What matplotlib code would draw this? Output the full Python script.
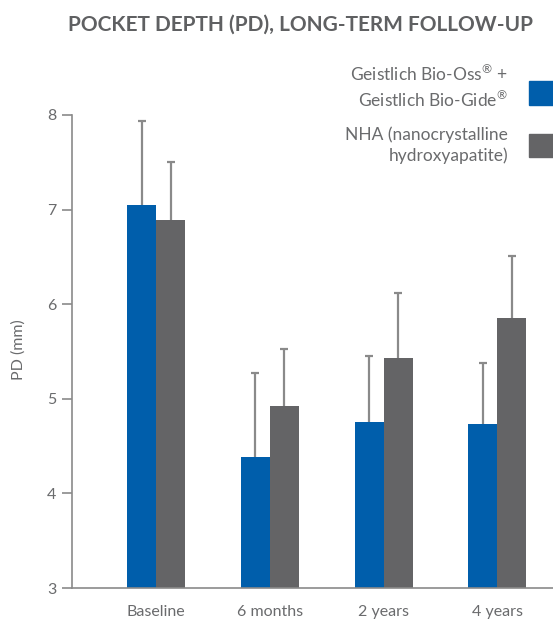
import numpy as np
import matplotlib
matplotlib.use('Agg')
import matplotlib.pyplot as plt
from matplotlib.patches import Rectangle

# data
categories = ['Baseline', '6 months', '2 years', '4 years']
bio_oss = [7.05, 4.39, 4.76, 4.73]
bio_oss_sd = [0.89, 0.88, 0.69, 0.65]
nha = [6.89, 4.92, 5.43, 5.85]
nha_sd = [0.61, 0.61, 0.69, 0.66]
series_labels = ['Geistlich Bio-Oss$^{®}$ +\nGeistlich Bio-Gide$^{®}$',
                 'NHA (nanocrystalline\nhydroxyapatite)']

blue = '#005EAB'
grey = '#646466'
text_col = '#6a6b6d'
axis_col = '#8a8a8a'

plt.rcParams['font.family'] = ['Lato', 'DejaVu Sans']
plt.rcParams['mathtext.fontset'] = 'custom'
plt.rcParams['mathtext.rm'] = 'Lato'
plt.rcParams['mathtext.it'] = 'Lato'
plt.rcParams['mathtext.default'] = 'rm'

fig = plt.figure(figsize=(5.53, 6.19), dpi=100)
ax = fig.add_axes([72 / 553, 31 / 619, 481 / 553, 473 / 619])

x = np.arange(len(categories))
w = 0.255

ax.bar(x - w / 2, bio_oss, w, color=blue, zorder=2)
ax.bar(x + w / 2, nha, w, color=grey, zorder=2)

# one sided error bars, lower caps hidden
for xs, vals, sd in [(x - w / 2, bio_oss, bio_oss_sd), (x + w / 2, nha, nha_sd)]:
    eb = ax.errorbar(xs, vals, yerr=[np.zeros(4), sd], fmt='none',
                     ecolor=axis_col, elinewidth=1.6, capsize=3, capthick=1.6, zorder=1)
    eb[1][0].set_visible(False)

ax.set_ylim(3, 8)
ax.set_xlim(-0.741, 3.49)
ax.set_yticks([3, 4, 5, 6, 7, 8])
ax.set_xticks(x)
ax.set_xticklabels(categories)

for s in ['top', 'right']:
    ax.spines[s].set_visible(False)
for s in ['left', 'bottom']:
    ax.spines[s].set_color(axis_col)
    ax.spines[s].set_linewidth(1.2)

ax.tick_params(axis='y', length=7.5, width=1.2, color=axis_col,
               labelsize=11.5, labelcolor=text_col, pad=4)
ax.tick_params(axis='x', length=0, labelsize=11.5, labelcolor=text_col, pad=12)

ax.set_ylabel('PD (mm)', fontsize=11.5, color=text_col, va='center')
ax.yaxis.set_label_coords(-0.112, 0.503)

fig.text(301 / 553, 1 - 25 / 619, 'POCKET DEPTH (PD), LONG-TERM FOLLOW-UP',
         ha='center', va='center', fontsize=15, fontweight='bold', color='#5f6062')

# legend drawn by hand, boxes run off the right edge
leg_y = [87, 145]
box_y = [93, 145]
colors = [blue, grey]
for lab, ty, by, c in zip(series_labels, leg_y, box_y, colors):
    fig.text(508 / 553, 1 - ty / 619, lab, ha='right', va='center',
             multialignment='right', fontsize=12.5, color=text_col, linespacing=1.3)
    fig.patches.append(Rectangle((529 / 553, 1 - (by + 11.5) / 619), 30 / 553, 23 / 619,
                                 transform=fig.transFigure, color=c))

fig.savefig('out.png', dpi=100)
